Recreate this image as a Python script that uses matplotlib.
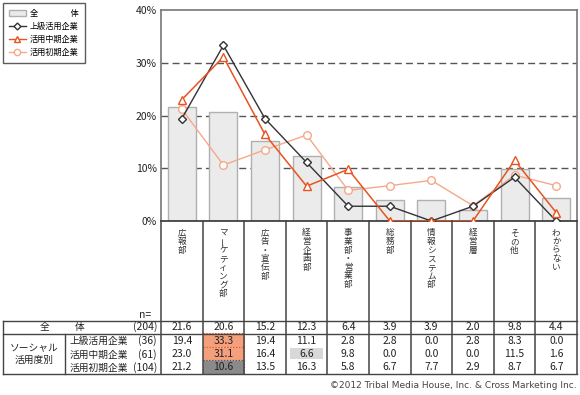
import matplotlib
matplotlib.use("Agg")
import matplotlib.pyplot as plt
from matplotlib.patches import Patch, Rectangle
from matplotlib.lines import Line2D
import numpy as np

plt.rcParams['font.family'] = ['Liberation Sans Narrow', 'Noto Sans CJK JP', 'DejaVu Sans']

categories = ["広報部", "マーケティング部", "広告・宣伝部", "経営企画部", "事業部・営業部",
              "総務部", "情報システム部", "経営層", "その他", "わからない"]
all_vals = [21.6, 20.6, 15.2, 12.3, 6.4, 3.9, 3.9, 2.0, 9.8, 4.4]
adv_vals = [19.4, 33.3, 19.4, 11.1, 2.8, 2.8, 0.0, 2.8, 8.3, 0.0]
mid_vals = [23.0, 31.1, 16.4, 6.6, 9.8, 0.0, 0.0, 0.0, 11.5, 1.6]
early_vals = [21.2, 10.6, 13.5, 16.3, 5.8, 6.7, 7.7, 2.9, 8.7, 6.7]
series_names = ["全　　　　体", "上級活用企業", "活用中期企業", "活用初期企業"]
n_values = ["(204)", "(36)", "(61)", "(104)"]
yticks = [0, 10, 20, 30, 40]
ytick_labels = ["0%", "10%", "20%", "30%", "40%"]
group_label = "ソーシャル\n活用度別"
copyright_text = "©2012 Tribal Media House, Inc. & Cross Marketing Inc."

W, H = 580, 395
fig = plt.figure(figsize=(W / 100, H / 100), dpi=100)

def px_rect(x0, y0, x1, y1):
    return [x0 / W, 1 - y1 / H, (x1 - x0) / W, (y1 - y0) / H]

AX_L, AX_R, AX_T, AX_B = 161, 577, 10, 221
TAB_B = 374

c_all_face, c_all_edge = '#ebebeb', '#b0b0b0'
c_adv, c_mid, c_early = '#333333', '#e8531f', '#f5a98a'
jp = ['Noto Sans CJK JP', 'DejaVu Sans']

ax = fig.add_axes(px_rect(AX_L, AX_T, AX_R, AX_B))
x = np.arange(len(categories))
ax.bar(x, all_vals, width=0.67, color=c_all_face, edgecolor=c_all_edge, linewidth=1, zorder=2)
ax.plot(x, early_vals, color=c_early, lw=1, marker='o', ms=5.5, mfc='white', mec=c_early, mew=1, zorder=3)
ax.plot(x, adv_vals, color=c_adv, lw=1, marker='D', ms=4.3, mfc='white', mec=c_adv, mew=1, zorder=4)
ax.plot(x, mid_vals, color=c_mid, lw=1.1, marker='^', ms=5.5, mfc='white', mec=c_mid, mew=1, zorder=5)
ax.set_xlim(-0.5, len(categories) - 0.5)
ax.set_ylim(0, 40)
ax.set_yticks(yticks)
ax.set_yticklabels(ytick_labels, fontsize=7.5, color='#222222')
ax.set_xticks([])
ax.tick_params(axis='y', length=0, pad=3)
for yv in yticks[1:-1]:
    ax.axhline(yv, color='#555555', lw=1, ls=(0, (5, 3)), zorder=1)
for s in ['left', 'top', 'right']:
    ax.spines[s].set_color('#777777')
    ax.spines[s].set_linewidth(1.2)
ax.spines['bottom'].set_color('#333333')
ax.spines['bottom'].set_linewidth(1.2)

# table/label area sharing category x positions
tab = fig.add_axes(px_rect(AX_L, AX_B, AX_R, TAB_B), sharex=ax)
tab.set_ylim(TAB_B, AX_B)
tab.axis('off')
for b in np.arange(len(categories) + 1) - 0.5:
    tab.plot([b, b], [AX_B, TAB_B], color='#444444', lw=1.1, clip_on=False)

# vertical category labels
for i, lab in enumerate(categories):
    for j, ch in enumerate(lab):
        rot = 90 if ch == 'ー' else 0
        tab.text(i, 233 + j * 8.6, ch, ha='center', va='center', fontsize=6.2,
                 rotation=rot, color='#333333', family=jp)

# rows
row_y = [327, 341, 354.5, 367.5]
row_bounds = [(321, 333.5), (333.5, 347.5), (347.5, 360.5), (360.5, 374)]
rows = [all_vals, adv_vals, mid_vals, early_vals]
hl = {(1, 1): ('#f4a07c', '#e8531f', False), (2, 1): ('#f4a07c', '#e8531f', False),
      (3, 1): ('#8a8a8a', '#555555', False), (2, 3): ('#d8d8d8', '#d8d8d8', True)}
for (r, c), (fc, ec, inset) in hl.items():
    y0, y1 = row_bounds[r]
    if inset:
        tab.add_patch(Rectangle((c - 0.4, y0 + 0.5), 0.8, y1 - y0 - 1.5, facecolor=fc,
                                edgecolor='none', zorder=1))
    else:
        tab.add_patch(Rectangle((c - 0.5, y0), 1.0, y1 - y0, facecolor=fc, edgecolor=ec,
                                lw=0.8, ls=':', zorder=1))
for r, vals in enumerate(rows):
    for i, v in enumerate(vals):
        tab.text(i, row_y[r], f"{v:.1f}", ha='center', va='center', fontsize=7.5,
                 color='#222222', zorder=3)

# overlay in pixel coords for the left label block
ov = fig.add_axes([0, 0, 1, 1])
ov.set_xlim(0, W)
ov.set_ylim(H, 0)
ov.axis('off')
ov.patch.set_alpha(0)
for yv in [321, 333.5, 374]:
    ov.plot([3, AX_R], [yv, yv], color='#444444', lw=1)
ov.plot([3, 3], [321, 374], color='#444444', lw=1)
ov.plot([65, 65], [333.5, 374], color='#444444', lw=1)
ov.text(145, 315, "n=", ha='center', va='center', fontsize=7.5, color='#222222')
ov.text(45, row_y[0], "全", ha='center', va='center', fontsize=7, color='#222222', family=jp)
ov.text(80, row_y[0], "体", ha='center', va='center', fontsize=7, color='#222222', family=jp)
ov.text(34, 354, group_label, ha='center', va='center', fontsize=7, color='#222222',
        linespacing=1.15, family=jp)
for r in range(1, 4):
    ov.text(70, row_y[r], series_names[r], ha='left', va='center', fontsize=7,
            color='#222222', family=jp)
for r in range(4):
    ov.text(157, row_y[r], n_values[r], ha='right', va='center', fontsize=7.5, color='#222222')
ov.text(577, 386, copyright_text, ha='right', va='center', fontsize=6.5, color='#444444',
        family=['DejaVu Sans'])

handles = [Patch(facecolor=c_all_face, edgecolor=c_all_edge, lw=1),
           Line2D([], [], color=c_adv, marker='D', ms=3.5, mfc='white', mec=c_adv, lw=1),
           Line2D([], [], color=c_mid, marker='^', ms=4.5, mfc='white', mec=c_mid, lw=1),
           Line2D([], [], color=c_early, marker='o', ms=4.5, mfc='white', mec=c_early, lw=1)]
leg = fig.legend(handles, series_names, loc='upper left', bbox_to_anchor=(3 / W, 1 - 3 / H),
                 frameon=True, fancybox=False, edgecolor='#333333',
                 handlelength=2.1, handleheight=0.8, handletextpad=0.5, borderpad=0.7,
                 labelspacing=0.5, borderaxespad=0,
                 prop={'family': jp, 'size': 5.9})
leg.get_frame().set_linewidth(1)

fig.savefig("out.png", dpi=100)
